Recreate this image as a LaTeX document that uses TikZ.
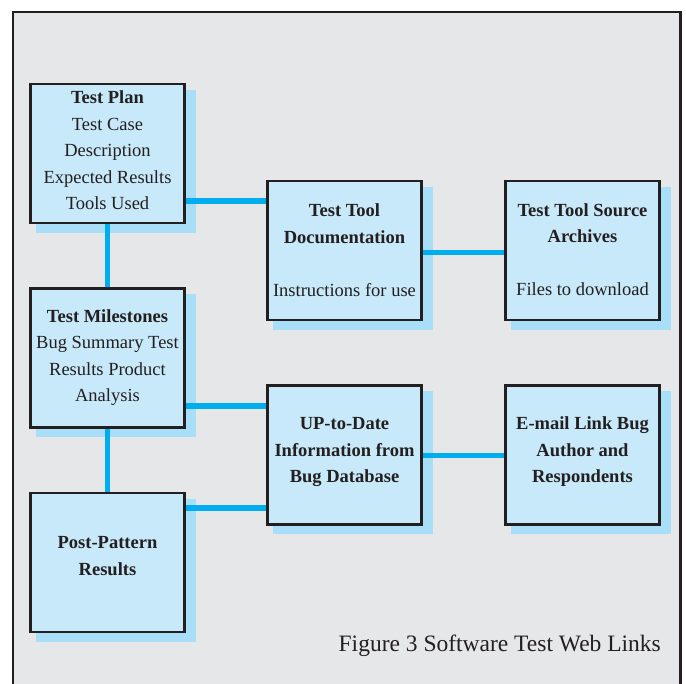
\documentclass[tikz,border=0pt]{standalone}
\usepackage{fontspec}
\setmainfont{Liberation Serif}
\definecolor{bgc}{RGB}{230,231,232}
\definecolor{ink}{RGB}{35,31,32}
\definecolor{boxc}{RGB}{199,233,249}
\definecolor{shadc}{RGB}{168,222,247}
\definecolor{linkc}{RGB}{0,174,239}
\pgfdeclarelayer{bg}
\pgfdeclarelayer{mid}
\pgfsetlayers{bg,mid,main}
\tikzset{
  boxnode/.style={draw=ink, line width=2.7pt, fill=boxc, minimum width=154.3pt,
    minimum height=138.8pt, inner sep=0pt},
  txt/.style={align=center, inner sep=0pt, text=ink, font=\fontsize{18.5}{26.5}\selectfont},
  link/.style={draw=linkc, line width=5.5pt},
  shadowbox/.style={fill=shadc}
}
\begin{document}
\begin{tikzpicture}[x=1pt,y=-1pt]
\useasboundingbox (0,0) rectangle (686,684);
\clip (0,0) rectangle (686,684);
\begin{pgfonlayer}{bg}
\fill[white] (0,0) rectangle (686,684);
\draw[draw=ink, line width=2.2pt, fill=bgc] (13.2,12) rectangle (680.5,720);
\end{pgfonlayer}

% boxes
\node[boxnode] (tp) at (107.5,153.5) {};
\node[boxnode] (ms) at (107.5,358) {};
\node[boxnode] (pp) at (107.5,562.5) {};
\node[boxnode] (doc) at (344.5,250.5) {};
\node[boxnode] (arch) at (582.5,250.5) {};
\node[boxnode] (up) at (344.5,455) {};
\node[boxnode] (em) at (582.5,455) {};

% texts
\node[txt] (tpt) at ([shift={(0,-3)}]tp.center)
  {{\bfseries Test Plan}\\Test Case\\Description\\Expected Results\\Tools Used};
\node[txt] (mst) at ([shift={(0,-0.5)}]ms.center)
  {{\bfseries Test Milestones}\\Bug Summary Test\\Results Product\\Analysis};
\node[txt, font=\bfseries\fontsize{18.5}{26.5}\selectfont] (ppt) at ([shift={(0,-6.5)}]pp.center)
  {Post-Pattern\\Results};
\node[txt] (doct) at ([shift={(0,-0.5)}]doc.center)
  {{\bfseries Test Tool}\\{\bfseries Documentation}\\[26.5pt]Instructions for use};
\node[txt] (archt) at ([shift={(0,-1)}]arch.center)
  {{\bfseries Test Tool Source}\\{\bfseries Archives}\\[26.5pt]Files to download};
\node[txt, font=\bfseries\fontsize{18.5}{26.5}\selectfont] (upt) at ([shift={(0,-3)}]up.center)
  {UP-to-Date\\Information from\\Bug Database};
\node[txt, font=\bfseries\fontsize{18.5}{26.5}\selectfont] (emt) at ([shift={(0,-3)}]em.center)
  {E-mail Link Bug\\Author and\\Respondents};

\node[anchor=base east, inner sep=0pt, text=ink, font=\fontsize{23.5}{28}\selectfont] (cap)
  at (661,651) {Figure 3 Software Test Web Links};

% shadows
\begin{pgfonlayer}{bg}
\foreach \n in {tp,ms,pp,doc,arch,up,em}
  \fill[shadowbox] ([shift={(7,7)}]\n.north west) rectangle ([shift={(9.5,8.5)}]\n.south east);
\end{pgfonlayer}

% connectors
\begin{pgfonlayer}{mid}
\draw[link] (tp.south) -- (ms.north);
\draw[link] (ms.south) -- (pp.north);
\draw[link] (tp.east |- 0,201) -- (doc.west |- 0,201);
\draw[link] (doc.east |- 0,252.5) -- (arch.west |- 0,252.5);
\draw[link] (ms.east |- 0,406) -- (up.west |- 0,406);
\draw[link] (pp.east |- 0,508) -- (up.west |- 0,508);
\draw[link] (up.east |- 0,455.5) -- (em.west |- 0,455.5);
\end{pgfonlayer}
\end{tikzpicture}
\end{document}
